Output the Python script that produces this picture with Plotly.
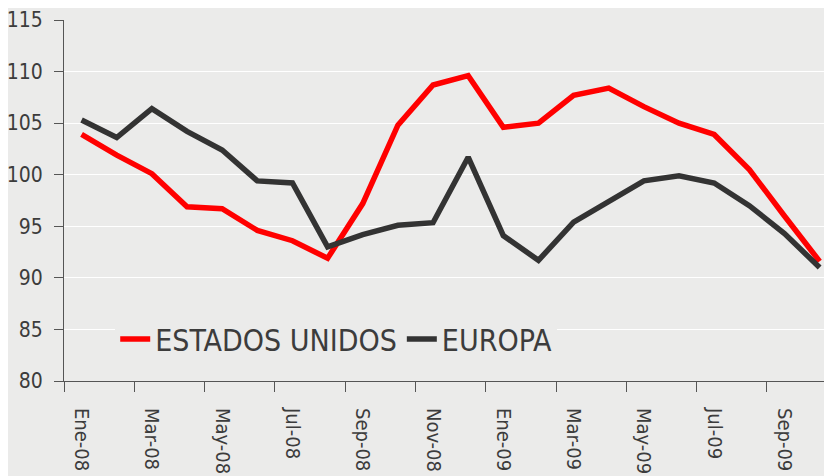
import plotly.graph_objects as go

months = ["Ene-08", "Feb-08", "Mar-08", "Abr-08", "May-08", "Jun-08", "Jul-08", "Ago-08",
          "Sep-08", "Oct-08", "Nov-08", "Dic-08", "Ene-09", "Feb-09", "Mar-09", "Abr-09",
          "May-09", "Jun-09", "Jul-09", "Ago-09", "Sep-09", "Oct-09"]
estados_unidos = [103.9, 101.9, 100.1, 96.9, 96.7, 94.6, 93.6, 91.9, 97.2, 104.8, 108.7, 109.6,
                  104.6, 105.0, 107.7, 108.4, 106.6, 105.0, 103.9, 100.5, 96.0, 91.6]
europa = [105.3, 103.6, 106.4, 104.2, 102.4, 99.4, 99.2, 93.0, 94.2, 95.1, 95.35, 101.7,
          94.1, 91.7, 95.4, 97.4, 99.4, 99.9, 99.2, 97.0, 94.3, 91.0]
y_ticks = [80, 85, 90, 95, 100, 105, 110, 115]

FONT = "Liberation Sans Narrow, Arial Narrow, DejaVu Sans Condensed, sans-serif"
TXT = "#3c3c3c"
BG = "#ebebea"

fig = go.Figure()
fig.add_trace(go.Scatter(x=months, y=estados_unidos, mode="lines", name="ESTADOS UNIDOS",
                         line=dict(color="#ff0000", width=5.5)))
fig.add_trace(go.Scatter(x=months, y=europa, mode="lines", name="EUROPA",
                         line=dict(color="#333333", width=5.5)))

fig.update_layout(
    width=832, height=476,
    margin=dict(l=56, r=0, t=12, b=103),
    paper_bgcolor=BG, plot_bgcolor=BG,
    font=dict(family=FONT, color=TXT, size=21),
    showlegend=True,
    legend=dict(orientation="h", x=0.066, xanchor="left", y=0.116, yanchor="middle",
                bgcolor=BG, font=dict(size=30, family=FONT, color=TXT),
                itemwidth=30, tracegroupgap=0),
    xaxis=dict(type="category", range=[-0.5, 21.58], tickmode="linear", tick0=0, dtick=2,
               tickson="boundaries", ticks="outside", ticklen=10, tickcolor="#555555",
               tickangle=90, showgrid=False, showline=True, linecolor="#555555", linewidth=1,
               tickfont=dict(size=20, family=FONT, color=TXT), ticklabelstandoff=22,
               zeroline=False, automargin=False),
    yaxis=dict(range=[80, 115], tickvals=y_ticks, ticks="outside", ticklen=9,
               tickcolor="#555555", showline=True, linecolor="#555555", linewidth=1,
               showgrid=True, gridcolor="#ffffff", gridwidth=1, zeroline=False,
               tickfont=dict(size=21, family=FONT, color=TXT), ticklabelstandoff=7,
               automargin=False),
)

fig.write_html("out.html")
